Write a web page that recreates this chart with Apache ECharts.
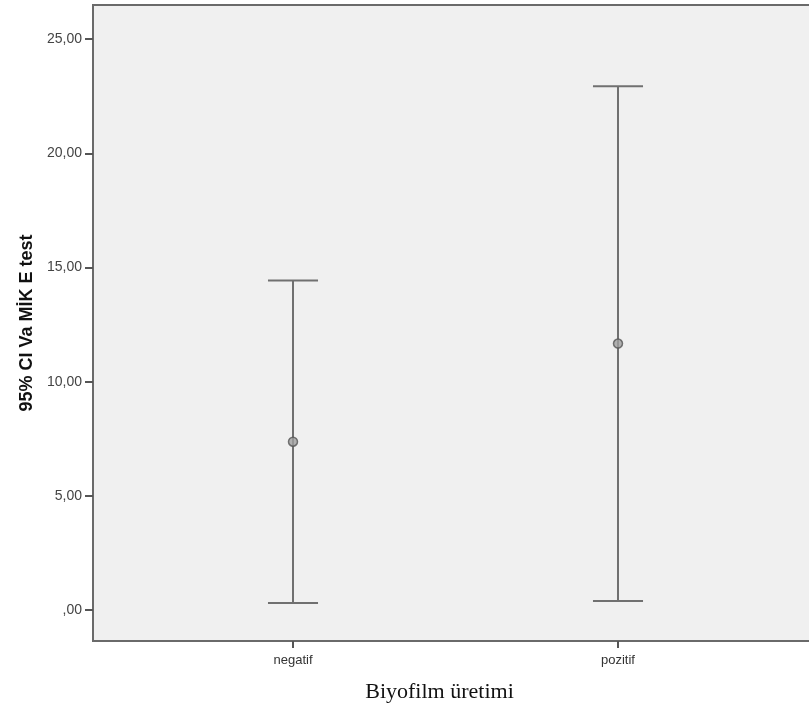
<!DOCTYPE html>
<html>
<head>
<meta charset="utf-8">
<script src="https://cdn.jsdelivr.net/npm/echarts@6/dist/echarts.min.js"></script>
<style>html,body{margin:0;padding:0;background:#fff;overflow:hidden;}#c{width:809px;height:717px;}</style>
</head>
<body>
<div id="c"></div>
<script>
var categories = ['negatif', 'pozitif'];
var means = [7.37, 11.67];
var lowerCI = [0.31, 0.39];
var upperCI = [14.43, 22.94];
var yTicks = [0, 5, 10, 15, 20, 25];

var barData = categories.map(function (c, i) { return [i + 1, lowerCI[i], upperCI[i]]; });
var meanData = categories.map(function (c, i) { return [i + 1, means[i]]; });
var catPos = categories.map(function (c, i) { return i + 1; });

var chart = echarts.init(document.getElementById('c'), null, { renderer: 'canvas' });
chart.setOption({
  backgroundColor: '#ffffff',
  animation: false,
  grid: {
    left: 93, top: 5, width: 725, bottom: 76,
    outerBoundsMode: 'none', containLabel: false,
    show: true, backgroundColor: '#f0f0f0', borderColor: '#6a6a6a', borderWidth: 2
  },
  xAxis: {
    type: 'value', min: 0.3846, max: 2.6154,
    axisLine: { show: true, onZero: false, lineStyle: { color: '#6a6a6a', width: 2 } },
    axisTick: { show: true, customValues: catPos, length: 7, lineStyle: { color: '#555', width: 2 } },
    axisLabel: {
      customValues: catPos, margin: 13, color: '#333', fontSize: 13, fontFamily: 'Arial, Liberation Sans',
      formatter: function (v) { return categories[Math.round(v) - 1] || ''; }
    },
    splitLine: { show: false },
    name: 'Biyofilm üretimi', nameLocation: 'middle', nameGap: 40,
    nameTextStyle: { fontFamily: 'Liberation Serif, Times New Roman, serif', fontSize: 22, color: '#111', padding: [0, 32, 0, 0] }
  },
  yAxis: {
    type: 'value', min: -1.36, max: 26.5,
    axisLine: { show: true, onZero: false, lineStyle: { color: '#6a6a6a', width: 2 } },
    axisTick: { show: true, customValues: yTicks, length: 8, lineStyle: { color: '#555', width: 2 } },
    axisLabel: {
      customValues: yTicks, margin: 11, color: '#444', fontSize: 14, fontFamily: 'Arial, Liberation Sans',
      formatter: function (v) { return v === 0 ? ',00' : v.toFixed(2).replace('.', ','); }
    },
    splitLine: { show: false },
    name: '95% CI Va MİK E test', nameLocation: 'middle', nameGap: 56,
    nameTextStyle: { fontFamily: 'Arial, Liberation Sans', fontSize: 18, fontWeight: 'bold', color: '#111' }
  },
  series: [
    {
      type: 'custom',
      data: barData,
      renderItem: function (params, api) {
        var x = api.value(0);
        var lo = api.coord([x, api.value(1)]);
        var hi = api.coord([x, api.value(2)]);
        var hw = api.size([0.077, 0])[0];
        var style = { stroke: '#707070', lineWidth: 2 };
        return {
          type: 'group',
          children: [
            { type: 'line', shape: { x1: lo[0], y1: lo[1], x2: hi[0], y2: hi[1] }, style: style },
            { type: 'line', shape: { x1: hi[0] - hw, y1: hi[1], x2: hi[0] + hw, y2: hi[1] }, style: style },
            { type: 'line', shape: { x1: lo[0] - hw, y1: lo[1], x2: lo[0] + hw, y2: lo[1] }, style: style }
          ]
        };
      },
      z: 2
    },
    {
      type: 'scatter',
      data: meanData,
      symbol: 'circle', symbolSize: 9,
      itemStyle: { color: '#a0a0a0', borderColor: '#555', borderWidth: 1.5 },
      z: 3
    }
  ]
});
</script>
</body>
</html>
